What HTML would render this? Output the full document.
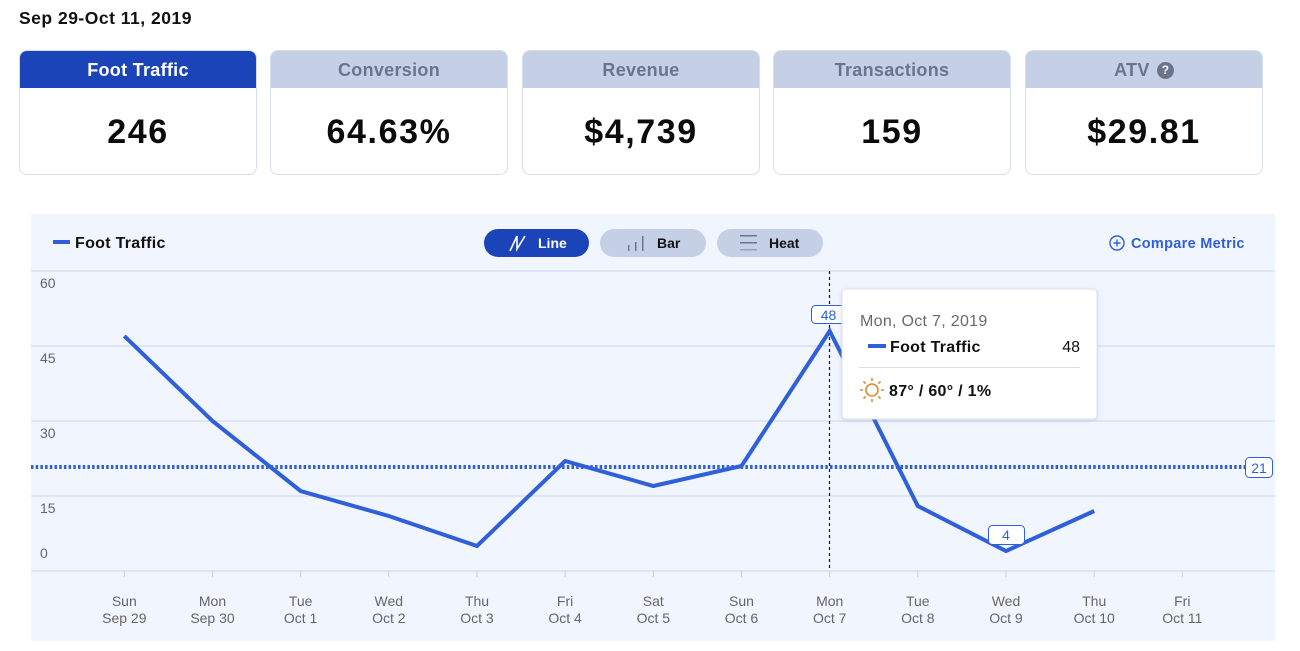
<!DOCTYPE html>
<html><head><meta charset="utf-8">
<style>
*{margin:0;padding:0;box-sizing:border-box}
html,body{width:1300px;height:651px;background:#fff;overflow:hidden;font-family:"Liberation Sans",sans-serif;color:#111}
.title{position:absolute;left:19px;top:8px;font-size:17.5px;font-weight:700;letter-spacing:0.5px}
.card{position:absolute;top:50px;width:238px;height:125px;border:1px solid #d5ddef;border-radius:8px;background:#fff;overflow:hidden}
.card .h{height:37px;background:#c5d0e6;color:#6b7489;font-size:18px;font-weight:700;text-align:center;line-height:38px;letter-spacing:0.3px}
.card.act .h{background:#1a44b8;color:#fff}
.card .v{text-align:center;font-size:34px;font-weight:700;line-height:88px;letter-spacing:1.6px;color:#0b0b0b}
.q{display:inline-block;width:17px;height:17px;border-radius:50%;background:#6b7489;color:#fff;font-size:12px;line-height:17px;vertical-align:2px;margin-left:2px;letter-spacing:0}
.chart{position:absolute;left:31px;top:214px;width:1244px;height:427px;background:#f1f5fd}
</style></head><body>
<div class="title">Sep 29-Oct 11, 2019</div>
<div class="card act" style="left:19px"><div class="h">Foot Traffic</div><div class="v">246</div></div>
<div class="card" style="left:270px"><div class="h">Conversion</div><div class="v">64.63%</div></div>
<div class="card" style="left:522px"><div class="h">Revenue</div><div class="v">$4,739</div></div>
<div class="card" style="left:773px"><div class="h">Transactions</div><div class="v">159</div></div>
<div class="card" style="left:1025px"><div class="h">ATV <span class="q">?</span></div><div class="v">$29.81</div></div>
<div class="chart"></div>
<svg style="position:absolute;left:0;top:0" width="1300" height="651" xmlns="http://www.w3.org/2000/svg" font-family="Liberation Sans, sans-serif">
<!-- legend -->
<rect x="53" y="240" width="17" height="4" fill="#2f5fd9"/>
<text x="75" y="248" font-size="16" font-weight="700" fill="#111" letter-spacing="0.3">Foot Traffic</text>
<!-- buttons -->
<rect x="484" y="229" width="105" height="28" rx="14" fill="#1a44b8"/>
<path d="M510 251 L517 236 L517 249 L525 236" stroke="#fff" stroke-width="1.6" fill="none"/>
<text x="538" y="248" font-size="14" font-weight="700" fill="#fff">Line</text>
<rect x="600" y="229" width="106" height="28" rx="14" fill="#c5d0e6"/>
<rect x="628" y="245" width="1.5" height="6" fill="#6b7489"/><rect x="635" y="242" width="1.5" height="9" fill="#6b7489"/><rect x="642" y="236" width="1.5" height="15" fill="#6b7489"/>
<text x="657" y="248" font-size="14" font-weight="700" fill="#111">Bar</text>
<rect x="717" y="229" width="106" height="28" rx="14" fill="#c5d0e6"/>
<rect x="740" y="235" width="17" height="1.5" fill="#6b7489"/><rect x="740" y="242" width="17" height="1.5" fill="#6b7489"/><rect x="740" y="249" width="17" height="1.5" fill="#9aa3b8"/>
<text x="769" y="248" font-size="14" font-weight="700" fill="#111">Heat</text>
<!-- compare -->
<circle cx="1117" cy="243" r="7" fill="none" stroke="#2f5fd9" stroke-width="1.4"/>
<path d="M1113.5 243 H1120.5 M1117 239.5 V246.5" stroke="#2f5fd9" stroke-width="1.4"/>
<text x="1131" y="248" font-size="14.5" font-weight="700" fill="#2f5fd9" letter-spacing="0.3">Compare Metric</text>
<!-- grid -->
<g stroke="#d3dcf0" stroke-width="1.2">
<line x1="31" y1="271" x2="1275" y2="271"/>
<line x1="31" y1="346" x2="1275" y2="346"/>
<line x1="31" y1="421" x2="1275" y2="421"/>
<line x1="31" y1="496" x2="1275" y2="496"/>
<line x1="31" y1="571" x2="1275" y2="571"/>
</g>
<g font-size="14" fill="#666">
<text x="40" y="288">60</text>
<text x="40" y="363">45</text>
<text x="40" y="438">30</text>
<text x="40" y="513">15</text>
<text x="40" y="558">0</text>
</g>
<!-- x ticks & labels -->
<g stroke="#c5cfe5" stroke-width="1">
<line x1="124.3" y1="571" x2="124.3" y2="577"/><line x1="212.5" y1="571" x2="212.5" y2="577"/><line x1="300.6" y1="571" x2="300.6" y2="577"/><line x1="388.8" y1="571" x2="388.8" y2="577"/><line x1="477" y1="571" x2="477" y2="577"/><line x1="565.1" y1="571" x2="565.1" y2="577"/><line x1="653.3" y1="571" x2="653.3" y2="577"/><line x1="741.5" y1="571" x2="741.5" y2="577"/><line x1="829.7" y1="571" x2="829.7" y2="577"/><line x1="917.8" y1="571" x2="917.8" y2="577"/><line x1="1006" y1="571" x2="1006" y2="577"/><line x1="1094.2" y1="571" x2="1094.2" y2="577"/><line x1="1182.3" y1="571" x2="1182.3" y2="577"/>
</g>
<g font-size="14" fill="#666" text-anchor="middle">
<text x="124.3" y="606">Sun</text><text x="124.3" y="623">Sep 29</text>
<text x="212.5" y="606">Mon</text><text x="212.5" y="623">Sep 30</text>
<text x="300.6" y="606">Tue</text><text x="300.6" y="623">Oct 1</text>
<text x="388.8" y="606">Wed</text><text x="388.8" y="623">Oct 2</text>
<text x="477" y="606">Thu</text><text x="477" y="623">Oct 3</text>
<text x="565.1" y="606">Fri</text><text x="565.1" y="623">Oct 4</text>
<text x="653.3" y="606">Sat</text><text x="653.3" y="623">Oct 5</text>
<text x="741.5" y="606">Sun</text><text x="741.5" y="623">Oct 6</text>
<text x="829.7" y="606">Mon</text><text x="829.7" y="623">Oct 7</text>
<text x="917.8" y="606">Tue</text><text x="917.8" y="623">Oct 8</text>
<text x="1006" y="606">Wed</text><text x="1006" y="623">Oct 9</text>
<text x="1094.2" y="606">Thu</text><text x="1094.2" y="623">Oct 10</text>
<text x="1182.3" y="606">Fri</text><text x="1182.3" y="623">Oct 11</text>
</g>
<!-- average -->
<line x1="31" y1="467" x2="1245" y2="467" stroke="#2f5fd9" stroke-width="4" stroke-dasharray="2.5 2.2"/>
<rect x="1245.5" y="457.5" width="27" height="20" rx="4" fill="#fff" stroke="#2f5fd9" stroke-width="1"/>
<text x="1259" y="473" font-size="14" fill="#2f5fd9" text-anchor="middle">21</text>
<!-- vertical cursor -->
<line x1="829.5" y1="271" x2="829.5" y2="571" stroke="#111" stroke-width="1.2" stroke-dasharray="3 3"/>
<!-- series -->
<polyline fill="none" stroke="#2f5fd9" stroke-width="4" stroke-linejoin="miter" points="124.3,336 212.5,421 300.6,491 388.8,516 477,546 565.1,461 653.3,486 741.5,466 829.7,331 917.8,506 1006,551 1094.2,511"/>
<!-- labels -->
<rect x="811.5" y="305.5" width="34" height="18" rx="4" fill="#fff" stroke="#2f5fd9" stroke-width="1"/>
<text x="828.5" y="320" font-size="14" fill="#2f5fd9" text-anchor="middle">48</text>
<rect x="988.5" y="525.5" width="36" height="19" rx="4" fill="#fff" stroke="#2f5fd9" stroke-width="1"/>
<text x="1006" y="540" font-size="14" fill="#2f5fd9" text-anchor="middle">4</text>
<!-- tooltip -->
<defs><filter id="sh" x="-10%" y="-10%" width="120%" height="130%"><feDropShadow dx="0" dy="1" stdDeviation="2" flood-color="#8090b0" flood-opacity="0.3"/></filter></defs>
<rect x="842" y="289" width="255" height="130" rx="4" fill="#fff" stroke="#dbe2f0" stroke-width="1" filter="url(#sh)"/>
<text x="860" y="326" font-size="16" fill="#6a6a6a" letter-spacing="0.3">Mon, Oct 7, 2019</text>
<rect x="868" y="344" width="18" height="4" fill="#2f5fd9"/>
<text x="890" y="352" font-size="16" font-weight="700" fill="#111" letter-spacing="0.3">Foot Traffic</text>
<text x="1080" y="352" font-size="16" fill="#111" text-anchor="end">48</text>
<line x1="859" y1="367.5" x2="1080" y2="367.5" stroke="#d3dcf0" stroke-width="1"/>
<g stroke="#e08a30" stroke-width="1.6" fill="none">
<circle cx="872" cy="390" r="6"/>
<path d="M872 378V381 M872 399V402 M860 390H863 M881 390H884 M863.5 381.5L865.6 383.6 M878.4 396.4L880.5 398.5 M863.5 398.5L865.6 396.4 M878.4 383.6L880.5 381.5"/>
</g>
<text x="889" y="396" font-size="16" font-weight="700" fill="#111" letter-spacing="0.3">87° / 60° / 1%</text>
</svg>
</body></html>
